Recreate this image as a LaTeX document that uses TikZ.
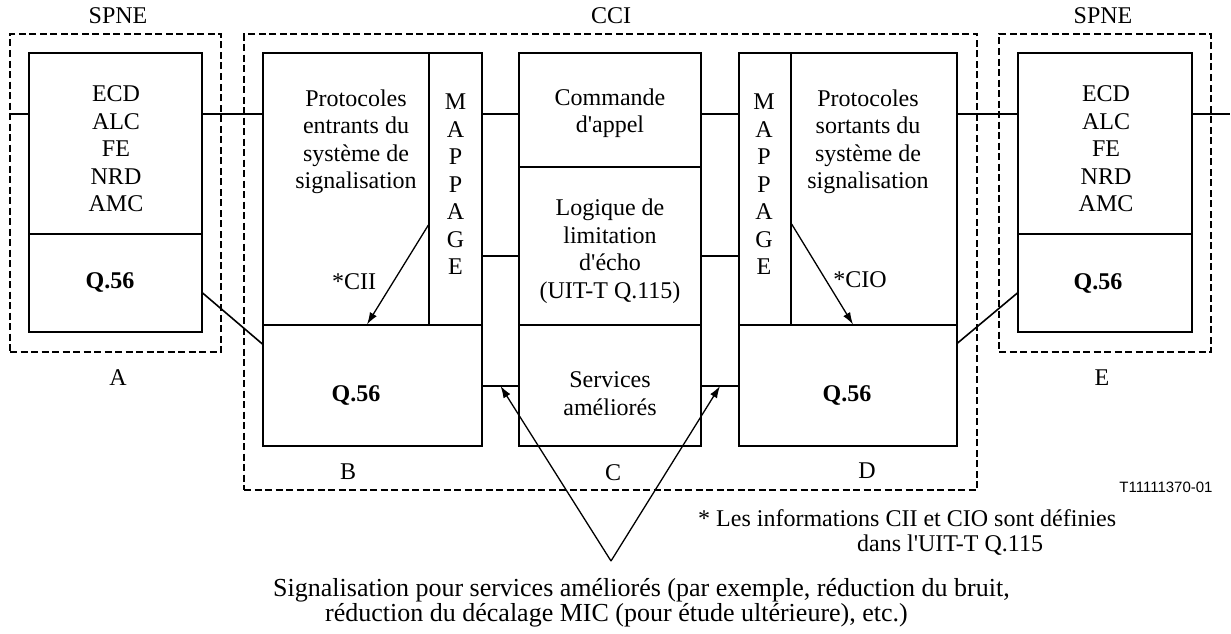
\documentclass[tikz,border=0pt]{standalone}
\usepackage{fontspec}
\setmainfont{Liberation Serif}
\newfontfamily\reffont{Liberation Sans}
\usepackage{tikz}
\usetikzlibrary{arrows.meta}

\tikzset{
  solidbox/.style={draw, line width=1.2pt, inner sep=0pt},
  dashbox/.style={draw, line width=1.5pt, dash pattern=on 7pt off 3.5pt, inner sep=0pt},
  wire/.style={line width=1.6pt},
  pointer/.style={line width=1.3pt, ->},
  txt/.style={align=center, inner sep=0pt, font=\fontsize{24}{27.5}\selectfont},
}

\begin{document}
\begin{tikzpicture}[x=1pt, y=-1pt, >={Latex[length=12pt, width=8pt]}]
        \useasboundingbox (0, 0) rectangle (1231, 634);

        % dashed frames
        \node[dashbox, minimum width=211pt, minimum height=318pt] (spneA) at (115.5, 193) {};
        \node[dashbox, minimum width=733pt, minimum height=456pt] (cci) at (610.5, 262) {};
        \node[dashbox, minimum width=212pt, minimum height=318pt] (spneE) at (1105, 193) {};
        \node[txt] (tSpneA) at (118, 16) {SPNE};
        \node[txt] (tCci) at (611, 16) {CCI};
        \node[txt] (tSpneE) at (1103, 16) {SPNE};

        % blocks
        \node[solidbox, minimum width=173pt, minimum height=181pt] (aTop) at (115.5, 143.5) {};
        \node[solidbox, minimum width=173pt, minimum height=98pt] (aQ) at (115.5, 283) {};
        \node[solidbox, minimum width=166pt, minimum height=272pt] (bProt) at (346, 189) {};
        \node[solidbox, minimum width=53pt, minimum height=272pt] (bMap) at (455.5, 189) {};
        \node[solidbox, minimum width=219pt, minimum height=121pt] (bQ) at (372.5, 385.5) {};
        \node[solidbox, minimum width=182pt, minimum height=114pt] (cCmd) at (610, 110) {};
        \node[solidbox, minimum width=182pt, minimum height=158pt] (cEcho) at (610, 246) {};
        \node[solidbox, minimum width=182pt, minimum height=121pt] (cServ) at (610, 385.5) {};
        \node[solidbox, minimum width=52pt, minimum height=272pt] (dMap) at (765, 189) {};
        \node[solidbox, minimum width=166pt, minimum height=272pt] (dProt) at (874, 189) {};
        \node[solidbox, minimum width=218pt, minimum height=121pt] (dQ) at (848, 385.5) {};
        \node[solidbox, minimum width=174pt, minimum height=181pt] (eTop) at (1105, 143.5) {};
        \node[solidbox, minimum width=174pt, minimum height=98pt] (eQ) at (1105, 283) {};

        % texts
        \node[txt] (tA) at (116, 149) {ECD\\ALC\\FE\\NRD\\AMC};
        \node[txt] (tAQ) at (110, 282) {\textbf{Q.56}};
        \node[txt] (tBProt) at (356, 142) {Protocoles\\entrants du\\système de\\signalisation};
        \node[txt] (tBMap) at (455.5, 184.5) {M\\A\\P\\P\\A\\G\\E};
        \node[txt] (tCii) at (354, 282) {*CII};
        \node[txt] (tBQ) at (356, 395) {\textbf{Q.56}};
        \node[txt] (tCmd) at (610, 113) {Commande\\d\textquotesingle appel};
        \node[txt] (tEcho) at (610, 251) {Logique de\\limitation\\d\textquotesingle écho\\(UIT-T Q.115)};
        \node[txt] (tServ) at (610, 393.5) {Services\\améliorés};
        \node[txt] (tDMap) at (764, 184.5) {M\\A\\P\\P\\A\\G\\E};
        \node[txt] (tDProt) at (868, 142) {Protocoles\\sortants du\\système de\\signalisation};
        \node[txt] (tCio) at (860, 280) {*CIO};
        \node[txt] (tDQ) at (847, 395) {\textbf{Q.56}};
        \node[txt] (tE) at (1106, 149) {ECD\\ALC\\FE\\NRD\\AMC};
        \node[txt] (tEQ) at (1098, 283) {\textbf{Q.56}};
        \node[txt] (tLblA) at (118, 378) {A};
        \node[txt] (tLblB) at (348, 472) {B};
        \node[txt] (tLblC) at (613, 473) {C};
        \node[txt] (tLblD) at (867, 471) {D};
        \node[txt] (tLblE) at (1102, 378) {E};
        \node[inner sep=0pt, font=\reffont\fontsize{15}{18}\selectfont] (tRef) at (1166, 487) {T11111370-01};
        \node[txt, align=left, anchor=west, font=\fontsize{24}{25}\selectfont] (tNote) at (698, 532) {* Les informations CII et CIO sont définies\\\hspace*{159pt}dans l\textquotesingle UIT-T Q.115};
        \node[txt, align=left, anchor=west, font=\fontsize{26}{25}\selectfont] (tSig) at (273, 603) {Signalisation pour services améliorés (par exemple, réduction du bruit,\\\hspace*{52pt}réduction du décalage MIC (pour étude ultérieure), etc.)};

        % connectors
        \coordinate (rowTop) at (0, 114);
        \coordinate (rowMid) at (0, 256);
        \coordinate (rowLow) at (0, 386);
        \coordinate (edgeL) at (10, 114);
        \coordinate (edgeR) at (1230, 114);
        \draw[wire] (edgeL) -- (aTop.west |- rowTop);
        \draw[wire] (aTop.east |- rowTop) -- (bProt.west |- rowTop);
        \draw[wire] (bMap.east |- rowTop) -- (cCmd.west |- rowTop);
        \draw[wire] (cCmd.east |- rowTop) -- (dMap.west |- rowTop);
        \draw[wire] (dProt.east |- rowTop) -- (eTop.west |- rowTop);
        \draw[wire] (eTop.east |- rowTop) -- (edgeR);
        \draw[wire] (bMap.east |- rowMid) -- (cEcho.west |- rowMid);
        \draw[wire] (cEcho.east |- rowMid) -- (dMap.west |- rowMid);
        \draw[wire] (bQ.east |- rowLow) -- coordinate[midway] (bcLow) (cServ.west |- rowLow);
        \draw[wire] (cServ.east |- rowLow) -- coordinate[midway] (cdLow) (dQ.west |- rowLow);
        \draw[wire] ([yshift=-10pt]aQ.east) -- ([yshift=41.5pt]bQ.west);
        \draw[wire] ([yshift=42.5pt]dQ.east) -- ([yshift=-10pt]eQ.west);

        % arrows
        \draw[pointer] ([yshift=-36pt]bMap.west) -- ([xshift=-5.5pt]bQ.north);
        \draw[pointer] ([yshift=-35pt]dMap.east) -- ([xshift=5pt]dQ.north);
        \coordinate (sigTop) at (611, 561);
        \draw[pointer] (sigTop) -- (bcLow);
        \draw[pointer] (sigTop) -- (cdLow);
    \end{tikzpicture}
\end{document}
